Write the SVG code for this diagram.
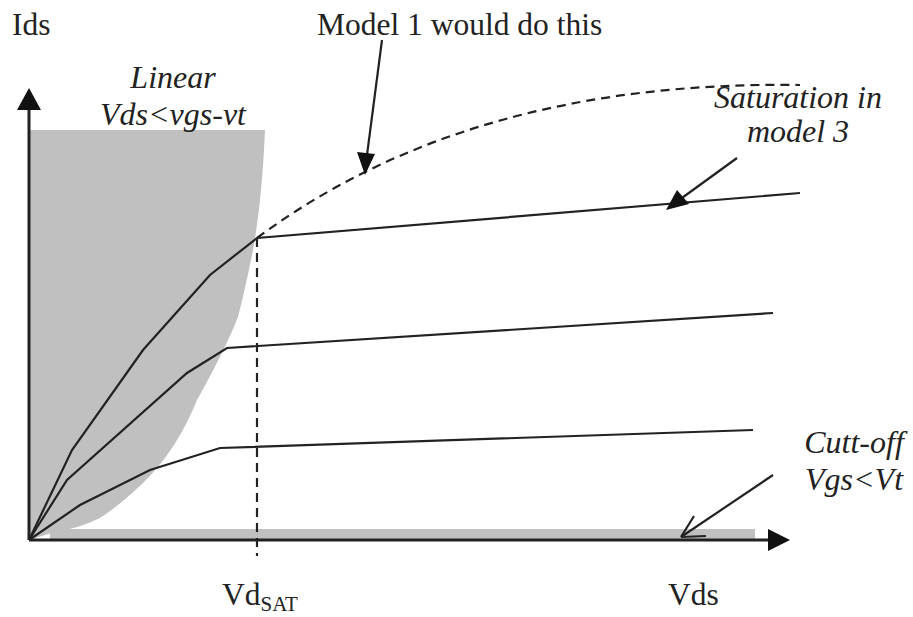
<svg xmlns="http://www.w3.org/2000/svg" width="913" height="617" viewBox="0 0 913 617">
<style>
.t{font-family:"Liberation Serif","Times New Roman",serif;font-size:31.5px;fill:#222}
.i{font-style:italic;font-size:32px}
.ln{fill:none;stroke:#222;stroke-width:2.2}
.ax{fill:none;stroke:#222;stroke-width:3}
.dash{fill:none;stroke:#222;stroke-width:2.2;stroke-dasharray:9 6}
.reg{fill:#c0c0c0}
</style>
<g id="linear-region">
<path class="reg" d="M29,130 L265,130 Q262,200 253,250 Q245,290 238,317 Q225,350 197,400 Q177,450 143,483 Q120,505 100,518 Q80,528 55,532 L29,540 Z"/>
<text class="t i" x="173" y="88" text-anchor="middle">Linear</text>
<text class="t i" x="173" y="125" text-anchor="middle">Vds&lt;vgs-vt</text>
</g>
<g id="cutoff-region">
<rect class="reg" x="50" y="529" width="705" height="10"/>
<text class="t i" x="854" y="453" text-anchor="middle">Cutt-off</text>
<text class="t i" x="854" y="490" text-anchor="middle">Vgs&lt;Vt</text>
</g>
<g id="axes">
<path class="ax" d="M29,540 L29,108"/>
<path d="M17,110 L29,88 L41,110 Z" fill="#111"/>
<path class="ax" d="M29,540 L770,540"/>
<path d="M768,529 L790,540 L768,551 Z" fill="#111"/>
<text class="t" x="12" y="35">Ids</text>
<text class="t" x="668" y="605">Vds</text>
<text class="t" x="222" y="605">Vd<tspan font-size="21" dy="6">SAT</tspan></text>
</g>
<g id="curves">
<path class="ln" d="M29,540 L72,450 L143,350 L210,275 L257,238 L800,193"/>
<path class="ln" d="M29,540 L67,480 L187,373 L227,348 L773,313"/>
<path class="ln" d="M29,540 L80,505 L150,470 L220,448 L753,430"/>
<path class="dash" d="M257,238 L257,556"/>
<path class="dash" d="M257,238 Q470,80 800,85"/>
</g>
<g id="annotations">
<text class="t" x="317" y="35">Model 1 would do this</text>
<text class="t i" x="798" y="108" text-anchor="middle">Saturation in</text>
<text class="t i" x="798" y="142" text-anchor="middle">model 3</text>
</g>
<g id="connectors">
<path class="ln" d="M382,40 L367,155"/>
<path d="M357,152 L365,175 L375,154 Z" fill="#111"/>
<path class="ln" d="M737,158 L675,203"/>
<path d="M666,210 L677,190 L689,204 Z" fill="#111"/>
<path class="ln" d="M773,475 L681,537"/>
<path class="ln" d="M681,537 L694,516 M681,537 L706,536"/>
</g>
</svg>
